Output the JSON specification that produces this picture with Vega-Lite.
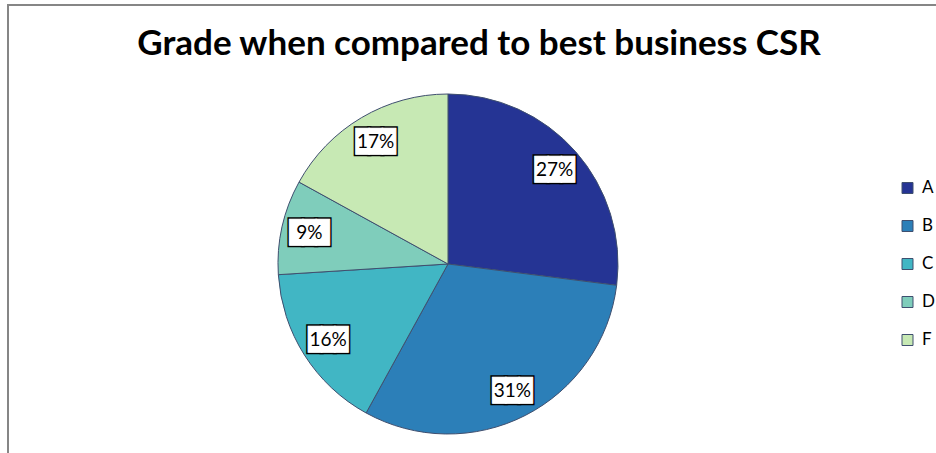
{
  "$schema": "https://vega.github.io/schema/vega-lite/v6.json",
  "autosize": "none",
  "width": 932,
  "height": 452,
  "padding": {"left": 8, "top": 5, "right": -4, "bottom": -4},
  "background": "white",
  "config": {"view": {"stroke": "#868686", "strokeWidth": 2}},
  "title": {
    "text": "Grade when compared to best business CSR",
    "font": "Lato",
    "fontSize": 35,
    "fontWeight": "bold",
    "color": "#000000",
    "anchor": "middle",
    "baseline": "alphabetic",
    "offset": 0,
    "dx": 5,
    "dy": 85
  },
  "data": {
    "values": [
      {"grade": "A", "pct": 0.27},
      {"grade": "B", "pct": 0.31},
      {"grade": "C", "pct": 0.16},
      {"grade": "D", "pct": 0.09},
      {"grade": "F", "pct": 0.17}
    ]
  },
  "encoding": {
    "theta": {"field": "pct", "type": "quantitative", "stack": true},
    "order": {"field": "grade", "sort": "ascending"},
    "x": {"value": 440},
    "y": {"value": 259}
  },
  "layer": [
    {
      "mark": {"type": "arc", "radius": 170, "stroke": "#3f4f6f", "strokeWidth": 1},
      "encoding": {
        "color": {
          "field": "grade",
          "type": "nominal",
          "scale": {
            "domain": ["A", "B", "C", "D", "F"],
            "range": ["#253494", "#2c7fb8", "#41b6c4", "#7fcdbb", "#c7e9b4"]
          },
          "legend": {
            "title": null,
            "orient": "none",
            "legendX": 891,
            "legendY": 175,
            "symbolType": "square",
            "symbolSize": 121,
            "symbolStrokeColor": "#3f4f6f",
            "symbolStrokeWidth": 1,
            "labelFont": "Lato",
            "labelFontSize": 17,
            "labelColor": "#000000",
            "rowPadding": 21,
            "clipHeight": 16,
            "padding": 0,
            "labelOffset": 6
          }
        }
      }
    },
    {
      "mark": {"type": "text", "radius": 142, "font": "DejaVu Sans Mono", "fontSize": 22, "fill": "#000000", "stroke": "#000000", "strokeWidth": 4, "text": "███", "align": "center", "baseline": "middle"},
      "encoding": {"detail": {"field": "grade", "type": "nominal"}}
    },
    {
      "mark": {"type": "text", "radius": 142, "font": "DejaVu Sans Mono", "fontSize": 22, "fill": "#ffffff", "stroke": "#ffffff", "strokeWidth": 1, "text": "███", "align": "center", "baseline": "middle"},
      "encoding": {"detail": {"field": "grade", "type": "nominal"}}
    },
    {
      "mark": {"type": "text", "radius": 142, "font": "Lato", "fontSize": 19, "fill": "#000000", "align": "center", "baseline": "middle"},
      "encoding": {
        "detail": {"field": "grade", "type": "nominal"},
        "text": {"field": "pct", "type": "quantitative", "format": ".0%"}
      }
    }
  ]
}
